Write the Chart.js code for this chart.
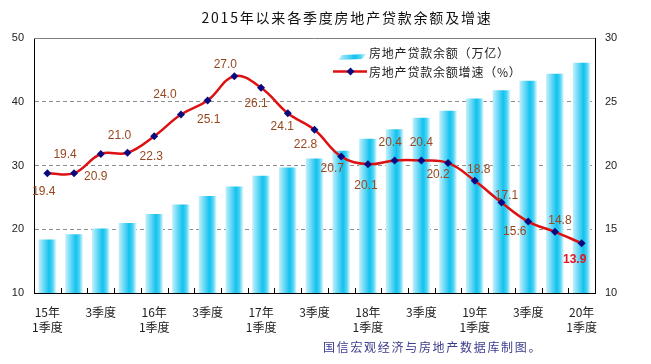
<!DOCTYPE html>
<html>
<head>
<meta charset="utf-8">
<script src="https://cdn.jsdelivr.net/npm/chart.js@4.4.1/dist/chart.umd.min.js"></script>
<style>
  body { margin: 0; background: #fff; }
  #wrap { width: 651px; height: 364px; }
</style>
</head>
<body>
<div id="wrap"><canvas id="myChart" width="651" height="364"></canvas></div>
<script>
// categorias (trimestres) e rótulos do eixo x
const quarters = [
  "2015Q1", "2015Q2", "2015Q3", "2015Q4",
  "2016Q1", "2016Q2", "2016Q3", "2016Q4",
  "2017Q1", "2017Q2", "2017Q3", "2017Q4",
  "2018Q1", "2018Q2", "2018Q3", "2018Q4",
  "2019Q1", "2019Q2", "2019Q3", "2019Q4",
  "2020Q1"
];
const tickLabels = [
  ["15年", "1季度"], "", "3季度", "",
  ["16年", "1季度"], "", "3季度", "",
  ["17年", "1季度"], "", "3季度", "",
  ["18年", "1季度"], "", "3季度", "",
  ["19年", "1季度"], "", "3季度", "",
  ["20年", "1季度"]
];

// 房地产贷款余额（万亿）
const loanBalance = [
  18.4, 19.2, 20.1, 21.0, 22.4, 23.9, 25.2, 26.7, 28.4, 29.7, 31.1,
  32.3, 34.2, 35.7, 37.5, 38.6, 40.5, 41.8, 43.3, 44.4, 46.1
];
// 房地产贷款余额增速（%）
const loanGrowth = [
  19.4, 19.4, 20.9, 21.0, 22.3, 24.0, 25.1, 27.0, 26.1, 24.1, 22.8,
  20.7, 20.1, 20.4, 20.4, 20.2, 18.8, 17.1, 15.6, 14.8, 13.9
];

const leftTicks = [10, 20, 30, 40, 50];
const rightTicks = [10, 15, 20, 25, 30];

// posição dos rótulos em relação a cada ponto (dx, dy)
const labelOffsets = [
  [-3.5, 19], [-9, -18], [-5, 23], [-8, -17], [-3, 21], [-16, -20], [1, 19],
  [-9, -12], [-5, 16], [-5.5, 13], [-9, 15], [-9, 12], [-2, 21], [-4.5, -18],
  [0, -18], [-10, 12], [4, -11], [5, -7], [-13.5, 10], [5, -11], [-7, 16.6]
];

const cjk = '"Noto Sans CJK SC", "Noto Sans", sans-serif';
const latin = '"Liberation Sans", Arial, sans-serif';

function cyanGradient(c, left, right) {
  const g = c.createLinearGradient(left, 0, right, 0);
  g.addColorStop(0, "#c4f0fc");
  g.addColorStop(0.6, "#12c2ef");
  g.addColorStop(0.8, "#4dd3f4");
  g.addColorStop(1, "#e4f9fe");
  return g;
}

function barFill(context) {
  const chart = context.chart;
  const area = chart.chartArea;
  if (!area || !chart.scales.x) return "#3cc8f0";
  const step = (area.right - area.left) / quarters.length;
  const x = chart.scales.x.getPixelForValue(context.dataIndex);
  const half = step * 0.33;
  return cyanGradient(chart.ctx, x - half, x + half);
}

const extras = {
  id: "extras",
  afterDatasetsDraw(chart) {
    const c = chart.ctx;
    const area = chart.chartArea;
    c.save();
    // linha superior cinzenta
    c.strokeStyle = "#808080";
    c.lineWidth = 1;
    c.beginPath();
    c.moveTo(area.left, Math.round(area.top) + 0.5);
    c.lineTo(area.right, Math.round(area.top) + 0.5);
    c.stroke();

    // marcas do eixo x para dentro
    const step = (area.right - area.left) / quarters.length;
    c.strokeStyle = "#000";
    c.beginPath();
    for (let i = 1; i < quarters.length; i++) {
      const x = Math.round(area.left + step * i) + 0.5;
      c.moveTo(x, area.bottom - 5);
      c.lineTo(x, area.bottom);
    }
    c.stroke();

    // rótulos dos valores
    const meta = chart.getDatasetMeta(0);
    c.textAlign = "center";
    c.textBaseline = "middle";
    meta.data.forEach((pt, i) => {
      const off = labelOffsets[i];
      const last = i === loanGrowth.length - 1;
      c.font = (last ? "bold " : "") + "12px " + latin;
      c.fillStyle = last ? "#e8141e" : "#97471f";
      c.fillText(loanGrowth[i].toFixed(1), pt.x + off[0], pt.y + off[1]);
    });
    c.restore();
  },
  afterDraw(chart) {
    const c = chart.ctx;
    c.save();
    c.textBaseline = "middle";

    // título
    c.font = "14px " + cjk;
    c.fillStyle = "#111";
    c.letterSpacing = "1.8px";
    c.textAlign = "center";
    c.fillText("2015年以来各季度房地产贷款余额及增速", 347, 18);

    // legenda
    c.textAlign = "left";
    c.font = "12px " + cjk;
    c.fillStyle = "#222";
    c.letterSpacing = "0.8px";
    c.fillText("房地产贷款余额（万亿）", 369, 53.5);
    c.fillText("房地产贷款余额增速（%）", 369, 72);
    c.letterSpacing = "0px";

    c.fillStyle = cyanGradient(c, 338, 366);
    c.beginPath();
    c.moveTo(338, 60);
    c.lineTo(342, 55);
    c.lineTo(366, 54);
    c.lineTo(362, 59);
    c.closePath();
    c.fill();

    c.strokeStyle = "#dd1111";
    c.lineWidth = 2.5;
    c.beginPath();
    c.moveTo(333, 71.5);
    c.lineTo(367, 71.5);
    c.stroke();
    c.fillStyle = "#0a0a80";
    c.beginPath();
    c.moveTo(350.5, 67.5);
    c.lineTo(354.5, 71.5);
    c.lineTo(350.5, 75.5);
    c.lineTo(346.5, 71.5);
    c.closePath();
    c.fill();

    // nota de fonte
    c.font = "12px " + cjk;
    c.fillStyle = "#3c3c8c";
    c.letterSpacing = "1.7px";
    c.fillText("国信宏观经济与房地产数据库制图。", 323, 347);
    c.restore();
  }
};

const ctx = document.getElementById("myChart");

const myChart = new Chart(ctx, {
  type: "bar",
  data: {
    labels: quarters,
    datasets: [
      {
        type: "line",
        label: "房地产贷款余额增速（%）",
        data: loanGrowth,
        yAxisID: "y1",
        borderColor: "#dd1111",
        borderWidth: 2.5,
        tension: 0.4,
        pointStyle: "rectRot",
        pointRadius: 4,
        pointBackgroundColor: "#0a0a80",
        pointBorderColor: "#0a0a80",
        pointBorderWidth: 0,
        order: 0
      },
      {
        type: "bar",
        label: "房地产贷款余额（万亿）",
        data: loanBalance,
        yAxisID: "y",
        backgroundColor: barFill,
        categoryPercentage: 1,
        barPercentage: 0.66,
        order: 1
      }
    ]
  },
  options: {
    responsive: false,
    animation: false,
    devicePixelRatio: 1,
    layout: { padding: { top: 38, left: 0, right: 0, bottom: 0 } },
    plugins: {
      legend: { display: false },
      title: { display: false },
      tooltip: { enabled: false }
    },
    scales: {
      x: {
        grid: { display: false, drawTicks: false },
        border: { display: true, color: "#000", width: 1 },
        ticks: {
          autoSkip: false,
          maxRotation: 0,
          padding: 12,
          color: "#222",
          font: { family: cjk, size: 12, lineHeight: 1.25 },
          callback: (value, index) => tickLabels[index]
        },
        afterFit: (scale) => { scale.height = 71; }
      },
      y: {
        position: "left",
        min: 10,
        max: 50,
        afterBuildTicks: (scale) => { scale.ticks = leftTicks.map((v) => ({ value: v })); },
        grid: {
          drawTicks: false,
          lineWidth: 1,
          color: (c) => (c.tick && c.tick.value > 10 && c.tick.value < 50 ? "#8c8c8c" : "transparent")
        },
        border: { display: true, color: "#000", width: 1, dash: [4, 3] },
        ticks: {
          padding: 10,
          color: "#222",
          font: { family: latin, size: 11 }
        },
        afterFit: (scale) => { scale.width = 34; }
      },
      y1: {
        position: "right",
        min: 10,
        max: 30,
        afterBuildTicks: (scale) => { scale.ticks = rightTicks.map((v) => ({ value: v })); },
        grid: { display: false, drawTicks: false },
        border: { display: true, color: "#000", width: 1 },
        ticks: {
          padding: 10,
          color: "#222",
          font: { family: latin, size: 11 }
        },
        afterFit: (scale) => { scale.width = 56; }
      }
    }
  },
  plugins: [extras]
});
</script>
</body>
</html>
